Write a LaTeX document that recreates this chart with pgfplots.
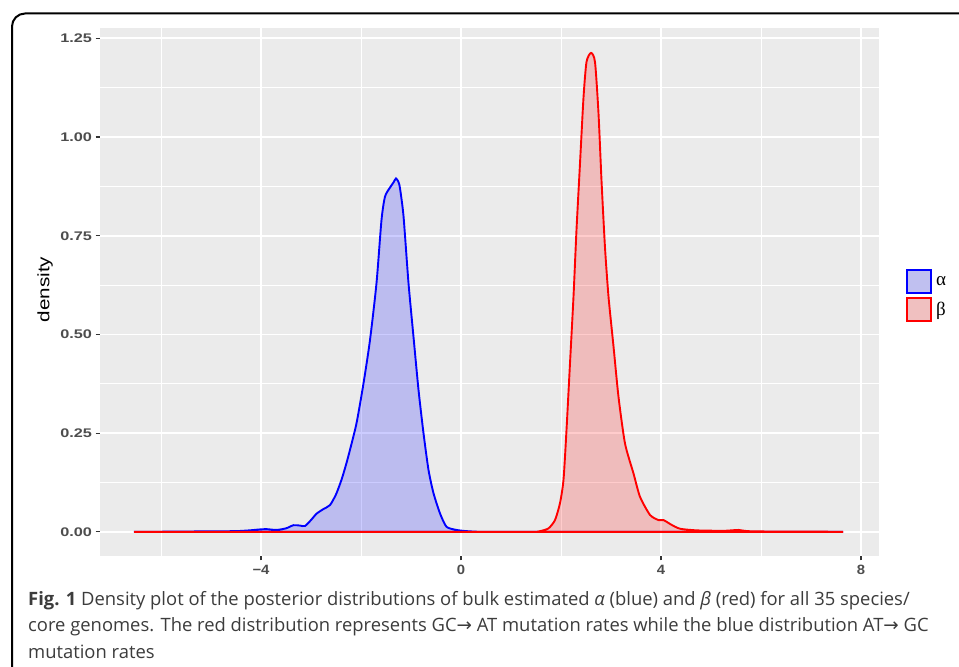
\documentclass[border=0pt]{standalone}
\usepackage{fontspec}
\usepackage{pgfplots}
\pgfplotsset{compat=1.18}
\setmainfont{Open Sans}
\newfontfamily\ytickfont[FakeStretch=1.3]{Liberation Sans}
\newfontfamily\xtickfont[FakeStretch=1.1]{Liberation Sans}
\newfontfamily\labfont[FakeStretch=1.25]{Liberation Sans}
\newfontfamily\legfont{Liberation Serif}
\newfontfamily\arrowfont{DejaVu Sans}
\definecolor{panel}{HTML}{EBEBEB}
\definecolor{tickc}{HTML}{4D4D4D}
\definecolor{captc}{HTML}{3C3C3C}
\definecolor{afill}{RGB}{192,192,240}
\definecolor{rfill}{RGB}{240,192,192}

\pgfplotstableread{
x y
-6.54 0.000
-6.0 0.0005
-5.5 0.001
-5.0 0.0015
-4.5 0.002
-4.22 0.004
-4.05 0.006
-3.89 0.007
-3.69 0.005
-3.5 0.009
-3.35 0.017
-3.22 0.016
-3.12 0.015
-3.0 0.030
-2.89 0.046
-2.75 0.058
-2.62 0.068
-2.5 0.095
-2.39 0.132
-2.30 0.170
-2.22 0.208
-2.09 0.275
-1.95 0.376
-1.82 0.486
-1.69 0.63
-1.59 0.79
-1.52 0.849
-1.42 0.872
-1.35 0.885
-1.30 0.895
-1.25 0.886
-1.22 0.870
-1.15 0.80
-1.05 0.63
-0.95 0.494
-0.85 0.36
-0.75 0.25
-0.65 0.157
-0.55 0.098
-0.42 0.047
-0.29 0.013
-0.09 0.005
0.11 0.002
0.5 0.000
2.0 0.000
4.0 0.000
6.0 0.000
7.64 0.000
}\alphatab

\pgfplotstableread{
x y
-6.54 0.000
-4.0 0.000
-2.0 0.000
0.0 0.000
1.40 0.000
1.58 0.002
1.75 0.009
1.88 0.030
1.98 0.073
2.05 0.132
2.11 0.258
2.18 0.427
2.25 0.596
2.31 0.765
2.38 0.933
2.45 1.10
2.51 1.190
2.60 1.213
2.68 1.190
2.75 1.06
2.81 0.89
2.88 0.72
2.95 0.596
3.05 0.47
3.15 0.342
3.28 0.224
3.45 0.148
3.58 0.089
3.78 0.043
3.95 0.030
4.05 0.030
4.21 0.018
4.38 0.008
4.70 0.004
5.05 0.003
5.30 0.003
5.55 0.005
5.72 0.002
6.20 0.001
7.00 0.001
7.64 0.000
}\betatab

\begin{document}
\begin{tikzpicture}[x=1pt,y=1pt]
\useasboundingbox (0,0) rectangle (959,667);
\fill[white] (0,0) rectangle (959,667);
\draw[black, line width=2pt, rounded corners=13pt] (12,-30) -- (12,653.5) -- (990,653.5);
\begin{axis}[
  at={(100pt,111pt)}, anchor=south west,
  scale only axis, width=779pt, height=528pt,
  xmin=-7.22, xmax=8.36, ymin=-0.061, ymax=1.276,
  axis background/.style={fill=panel},
  axis line style={draw=none},
  xtick pos=bottom, ytick pos=left,
  xtick={-4,0,4,8}, xticklabels={−4,0,4,8},
  minor xtick={-6,-2,2,6},
  ytick={0,0.25,0.5,0.75,1,1.25},
  yticklabels={0.00,0.25,0.50,0.75,1.00,1.25},
  minor ytick={0.125,0.375,0.625,0.875,1.125},
  grid=both,
  major grid style={white, line width=1.6pt},
  minor grid style={white, line width=0.8pt},
  tick align=outside,
  major tick length=4.5pt, minor tick length=0pt,
  tick style={color=black!80, line width=1.1pt},
  xticklabel style={font=\xtickfont\bfseries\fontsize{13.5}{13.5}\selectfont, text=tickc, yshift=-1pt},
  yticklabel style={font=\ytickfont\bfseries\fontsize{12.5}{12.5}\selectfont, text=tickc},
  ylabel={density},
  ylabel style={font=\labfont\fontsize{16.5}{16.5}\selectfont, text=black, at={(axis description cs:-0.0706,0.505)}, anchor=center},
  legend style={at={(1.0347,0.4934)}, anchor=west, draw=none, fill=none, inner sep=0pt, row sep=3pt, font=\legfont\fontsize{19}{19}\selectfont, cells={anchor=west}},
]
\addplot[draw=blue, fill=blue, fill opacity=0.2, line width=1.9pt, smooth, tension=0.4, forget plot] table[x=x,y=y]{\alphatab} \closedcycle;
\addplot[draw=red, fill=red, fill opacity=0.2, line width=1.9pt, smooth, tension=0.4, forget plot] table[x=x,y=y]{\betatab} \closedcycle;
\addlegendimage{legend image code/.code={\draw[fill=afill,draw=blue,line width=1.8pt] (0pt,-11.5pt) rectangle (24pt,11.5pt);}}
\addlegendentry{\hspace{2pt}α}
\addlegendimage{legend image code/.code={\draw[fill=rfill,draw=red,line width=1.8pt] (0pt,-11.5pt) rectangle (24pt,11.5pt);}}
\addlegendentry{\hspace{2pt}β}
\end{axis}
\node[anchor=base west, text=captc, font=\fontsize{18.4}{18.4}\selectfont, inner sep=0pt] at (28,61) {\textbf{Fig. 1} Density plot of the posterior distributions of bulk estimated \textit{α} (blue) and \textit{β} (red) for all 35 species/};
\node[anchor=base west, text=captc, font=\fontsize{18.4}{18.4}\selectfont, inner sep=0pt] at (28,35) {core genomes. The red distribution represents GC{\arrowfont →} AT mutation rates while the blue distribution AT{\arrowfont →} GC};
\node[anchor=base west, text=captc, font=\fontsize{18.4}{18.4}\selectfont, inner sep=0pt] at (28,9) {mutation rates};
\end{tikzpicture}
\end{document}
